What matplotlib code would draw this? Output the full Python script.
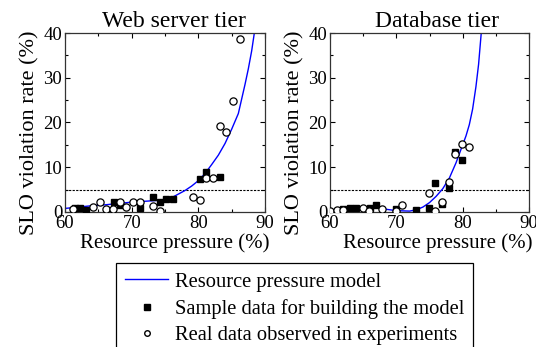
import matplotlib
matplotlib.use('Agg')
import matplotlib.pyplot as plt
from matplotlib.ticker import MultipleLocator
from matplotlib.lines import Line2D

plt.rcParams['font.family'] = ['Liberation Serif', 'DejaVu Serif']

# Web server tier
web_model_x = [60, 62, 64, 66, 68, 70, 72, 74, 75, 76, 77, 78, 79, 80, 81, 82, 83, 84, 85, 86, 87, 87.5, 88, 88.4]
web_model_y = [0.8, 1.1, 1.4, 1.6, 1.9, 2.2, 2.4, 2.6, 2.8, 3.2, 4.0, 4.8, 5.8, 7.0, 8.6, 10.6, 12.7, 15.3, 18.5, 22.0, 28.5, 32.0, 36.0, 40.0]
web_sample_x = [61.5, 62.3, 63.2, 67.3, 68.2, 71.2, 73.2, 74.2, 75.2, 76.2, 80.2, 81.1, 83.2]
web_sample_y = [0.8, 0.8, 0.5, 2.2, 1.6, 0.8, 3.4, 2.3, 3.0, 3.0, 7.4, 9.0, 7.8]
web_real_x = [61.2, 64.2, 65.2, 66.2, 67.2, 68.2, 69.2, 70.2, 71.2, 73.2, 74.2, 79.2, 80.2, 81.2, 82.2, 83.2, 84.2, 85.2, 86.2]
web_real_y = [0.6, 1.2, 2.2, 0.6, 0.6, 2.2, 1.2, 2.3, 2.2, 1.3, 0.3, 3.4, 2.7, 7.7, 7.7, 19.2, 17.8, 24.9, 38.6]

# Database tier
db_model_x = [60, 62, 64, 66, 68, 70, 72, 73, 74, 75, 76, 77, 78, 79, 80, 80.5, 81, 81.5, 82, 82.4, 82.8]
db_model_y = [0.2, 0.6, 1.0, 1.1, 0.7, 0.3, 0.2, 0.5, 1.1, 2.1, 3.5, 5.2, 7.6, 11.0, 15.0, 17.0, 19.5, 23.0, 28.0, 33.0, 40.0]
db_sample_x = [62.0, 63.0, 63.9, 66.0, 66.9, 69.9, 72.9, 74.9, 75.9, 76.9, 77.9, 78.9, 79.9]
db_sample_y = [0.7, 1.0, 0.8, 0.8, 1.6, 0.6, 0.5, 1.0, 6.5, 1.7, 5.4, 13.3, 11.6]
db_real_x = [60.0, 61.0, 62.0, 64.9, 65.9, 67.9, 69.9, 70.9, 74.9, 75.9, 76.9, 77.9, 78.9, 79.9, 80.9]
db_real_y = [0.3, 0.45, 0.45, 1.0, 0.3, 0.7, 0.3, 1.5, 4.3, 0.3, 2.3, 6.7, 12.9, 15.2, 14.5]

titles = ['Web server tier', 'Database tier']
legend_labels = ['Resource pressure model', 'Sample data for building the model',
                 'Real data observed in experiments']

fig = plt.figure(figsize=(5.36, 3.47), dpi=100)
ax1 = fig.add_axes([65 / 536, 1 - 212 / 347, 200 / 536, 179 / 347])
ax2 = fig.add_axes([330 / 536, 1 - 212 / 347, 199 / 536, 179 / 347])

# (axes, model, sample, real, title x, xlabel x)
panels = [
    (ax1, web_model_x, web_model_y, web_sample_x, web_sample_y, web_real_x, web_real_y, 0.545, 0.55),
    (ax2, db_model_x, db_model_y, db_sample_x, db_sample_y, db_real_x, db_real_y, 0.54, 0.54),
]

for i, (ax, mx, my, sx, sy, rx, ry, tx, lx) in enumerate(panels):
    ax.axhline(5, color='black', linestyle=(0, (2, 1.2)), linewidth=0.8, zorder=1)
    ax.plot(mx, my, color='#0000ff', linewidth=1.0, zorder=2)
    ax.plot(sx, sy, linestyle='none', marker='s', markersize=5,
            markerfacecolor='black', markeredgecolor='black', zorder=3)
    ax.plot(rx, ry, linestyle='none', marker='o', markersize=5.2,
            markerfacecolor='white', markeredgecolor='black', markeredgewidth=0.9, zorder=4)
    ax.set_xlim(60, 90)
    ax.set_ylim(0, 40)
    ax.xaxis.set_major_locator(MultipleLocator(10))
    ax.xaxis.set_minor_locator(MultipleLocator(5))
    ax.yaxis.set_major_locator(MultipleLocator(10))
    ax.yaxis.set_minor_locator(MultipleLocator(5))
    ax.tick_params(which='both', direction='in', top=True, right=True, labelsize=13.5, pad=2)
    ax.tick_params(which='major', length=3.5, width=0.8)
    ax.tick_params(which='minor', length=2, width=0.8)
    for sp in ax.spines.values():
        sp.set_linewidth(0.9)
        sp.set_color('#333333')
    ax.set_xlabel('Resource pressure (%)', fontsize=15, labelpad=1)
    ax.set_ylabel('SLO violation rate (%)', fontsize=16, labelpad=3)
    ax.xaxis.label.set_x(lx)
    ax.yaxis.label.set_y(0.44)
    ax.set_title(titles[i], fontsize=17, x=tx, pad=4)

handles = [
    Line2D([], [], color='#0000ff', linewidth=1.0),
    Line2D([], [], linestyle='none', marker='s', markersize=4, markerfacecolor='black', markeredgecolor='black'),
    Line2D([], [], linestyle='none', marker='o', markersize=4, markerfacecolor='white', markeredgecolor='black'),
]
leg = fig.legend(handles, legend_labels, loc='upper left',
                 bbox_to_anchor=(116 / 536, 1 - 263 / 347), fontsize=14.8,
                 frameon=True, fancybox=False, edgecolor='black', framealpha=1,
                 handlelength=2.1, handletextpad=0.3, labelspacing=0.35,
                 borderpad=0.45, borderaxespad=0)
leg.get_frame().set_linewidth(0.9)

fig.savefig('out.png', dpi=100)
